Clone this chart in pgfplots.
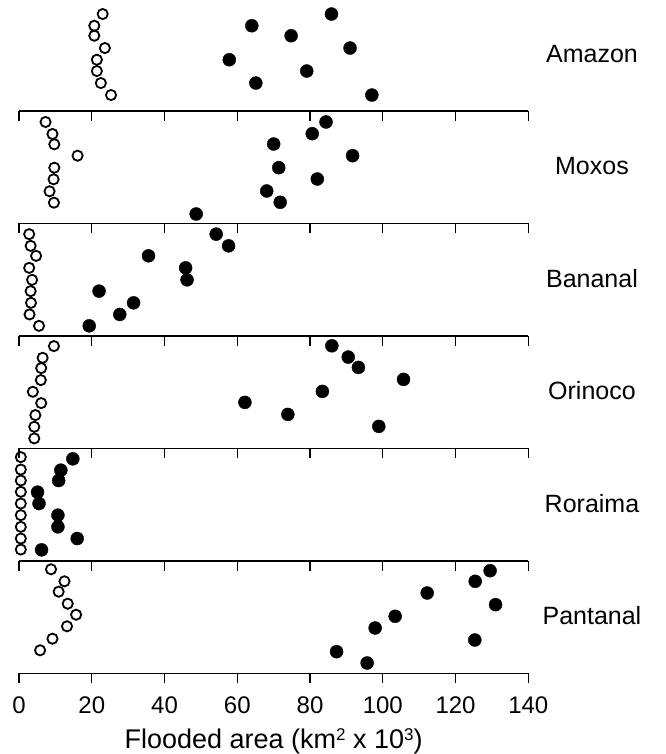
\documentclass[border=0pt]{standalone}
\usepackage{fontspec}
\setmainfont{Liberation Sans}
\usepackage{pgfplots}
\pgfplotsset{compat=1.18}

% one strip per wetland: only a bottom scale line with outward ticks
\pgfplotsset{
  panel/.style={
    scale only axis, width=509.3pt, height=112.45pt,
    xmin=0, xmax=140, ymin=0, ymax=112.45,
    axis x line*=bottom, hide y axis,
    xtick={0,20,...,140}, tick align=outside, major tick length=10pt,
    xtick style={line width=1.3pt, black},
    axis line style={line width=1.6pt},
    xticklabels={}, clip=false, anchor=south west,
  },
  lowflood/.style={only marks, mark=o, mark size=5.1pt,
    mark options={line width=1.8pt, black}},
  highflood/.style={only marks, mark=*, mark size=6.5pt,
    mark options={draw=none, fill=black}},
}
\tikzset{wetland/.style={font=\fontsize{25}{30}\selectfont}}
\newcommand{\unitsup}[1]{\raisebox{7.5pt}{\fontsize{17}{17}\selectfont #1}}

\begin{document}
\begin{tikzpicture}
\useasboundingbox (-19pt,-80.7pt) rectangle (646pt,673.3pt);

% ---------------- Amazon ----------------
\begin{axis}[panel, at={(0pt,562.25pt)}]
\addplot[lowflood] coordinates {(23.0,97) (20.7,85.3) (20.7,75.3) (23.6,63) (21.4,51.3) (21.4,40) (22.5,28) (25.3,16)};
\addplot[highflood] coordinates {(85.9,97) (64.0,85.3) (74.8,75.3) (91.0,63) (57.8,51.3) (79.1,40) (65.1,28) (97.0,16)};
\node[wetland] at (rel axis cs:1.125,0.511) {Amazon};
\end{axis}

% ---------------- Moxos ----------------
\begin{axis}[panel, at={(0pt,449.8pt)}]
\addplot[lowflood] coordinates {(7.3,101.5) (9.2,89.5) (9.7,79.2) (16.1,67.8) (9.7,55.8) (9.5,44.2) (8.4,32.2) (9.6,20.8)};
\addplot[highflood] coordinates {(84.4,101.5) (80.6,89.8) (70.0,79.5) (91.7,67.8) (71.4,55.8) (82.0,44.5) (68.1,32.5) (71.8,21.2) (48.7,9.5)};
\node[wetland] at (rel axis cs:1.125,0.511) {Moxos};
\end{axis}

% ---------------- Bananal ----------------
\begin{axis}[panel, at={(0pt,337.35pt)}]
\addplot[lowflood] coordinates {(2.8,101.8) (3.2,90.1) (4.7,80.1) (2.8,68.1) (3.6,56.1) (3.2,44.8) (3.3,33.1) (2.9,21.5) (5.5,10.1)};
\addplot[highflood] coordinates {(54.2,101.8) (57.6,90.1) (35.6,80.1) (45.8,68.1) (46.2,56.1) (22.0,44.8) (31.5,33.1) (27.7,21.5) (19.3,10.1)};
\node[wetland] at (rel axis cs:1.125,0.511) {Bananal};
\end{axis}

% ---------------- Orinoco ----------------
\begin{axis}[panel, at={(0pt,224.9pt)}]
\addplot[lowflood] coordinates {(9.6,102.3) (6.5,90.6) (6.1,80.3) (6.0,68.3) (3.8,56.6) (6.1,45.3) (4.5,33.3) (4.2,21.6) (4.2,10)};
\addplot[highflood] coordinates {(86.0,102.6) (90.5,91.3) (93.3,81) (105.7,69) (83.4,57) (62.1,46) (73.9,34) (98.9,22)};
\node[wetland] at (rel axis cs:1.125,0.511) {Orinoco};
\end{axis}

% ---------------- Roraima ----------------
\begin{axis}[panel, at={(0pt,112.45pt)}]
\addplot[lowflood] coordinates {(0.5,103.7) (0.5,91.3) (0.5,80.3) (0.5,69) (0.5,57.3) (0.5,45.7) (0.5,34) (0.5,22.3) (0.5,11.3)};
\addplot[highflood] coordinates {(14.8,102) (11.5,90.7) (10.9,80.3) (5.1,68.7) (5.5,57.3) (10.7,45.7) (10.7,34) (16.0,22.3) (6.2,11)};
\node[wetland] at (rel axis cs:1.125,0.511) {Roraima};
\end{axis}

% ---------------- Pantanal ----------------
\begin{axis}[panel, at={(0pt,0pt)},
  xticklabels={0,20,40,60,80,100,120,140},
  xticklabel style={font=\fontsize{24}{28}\selectfont, anchor=base, yshift=-30pt},
  xlabel={Flooded area (km\unitsup{2} x 10\unitsup{3})},
  xlabel style={font=\fontsize{27}{30}\selectfont, at={(rel axis cs:0.5,0)}, anchor=base, yshift=-75pt},
]
\addplot[lowflood] coordinates {(8.8,104) (12.5,92) (10.9,81.6) (13.4,69.6) (15.7,58.6) (13.2,47) (9.2,34.6) (5.8,23)};
\addplot[highflood] coordinates {(129.5,102.6) (125.4,92) (112.2,80.3) (131.0,68.6) (103.4,57) (97.9,45.3) (125.3,33.3) (87.3,21.6) (95.7,10.3)};
\node[wetland] at (rel axis cs:1.125,0.511) {Pantanal};
\end{axis}
\end{tikzpicture}
\end{document}
